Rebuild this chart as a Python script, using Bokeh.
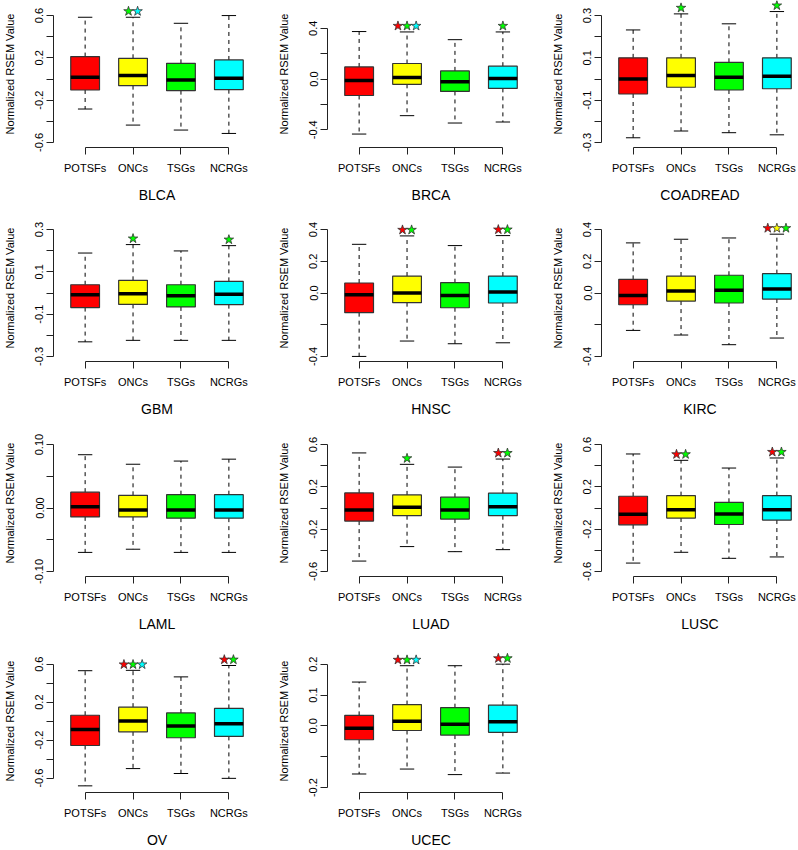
import numpy as np
from bokeh.plotting import figure
from bokeh.layouts import gridplot
from bokeh.models import Range1d, FixedTicker
from bokeh.embed import file_html
from bokeh.resources import INLINE

categories = ["POTSFs", "ONCs", "TSGs", "NCRGs"]
box_colors = ["#FF0000", "#FFFF00", "#00FF00", "#00FFFF"]
star_palette = {"r": "#FF0000", "y": "#FFFF00", "g": "#00FF00", "c": "#00FFFF"}
cancers = ["BLCA", "BRCA", "COADREAD", "GBM", "HNSC", "KIRC",
           "LAML", "LUAD", "LUSC", "OV", "UCEC"]

# per category: (lower whisker, Q1, median, Q3, upper whisker)
BLCA = [(-0.284, -0.104, 0.016, 0.212, 0.584), (-0.436, -0.063, 0.032, 0.196, 0.584),
        (-0.483, -0.110, -0.009, 0.148, 0.527), (-0.515, -0.101, 0.006, 0.180, 0.600)]
BRCA = [(-0.434, -0.130, -0.011, 0.095, 0.374), (-0.289, -0.042, 0.011, 0.122, 0.371),
        (-0.347, -0.098, -0.021, 0.064, 0.310), (-0.339, -0.074, 0.003, 0.101, 0.371)]
COADREAD = [(-0.278, -0.071, 0.000, 0.100, 0.232), (-0.246, -0.039, 0.016, 0.100, 0.308),
            (-0.254, -0.052, 0.008, 0.079, 0.261), (-0.264, -0.046, 0.013, 0.100, 0.319)]
GBM = [(-0.231, -0.069, -0.008, 0.039, 0.189), (-0.224, -0.054, -0.003, 0.060, 0.229),
       (-0.224, -0.066, -0.013, 0.039, 0.199), (-0.224, -0.055, -0.006, 0.055, 0.224)]
HNSC = [(-0.400, -0.124, -0.011, 0.063, 0.307), (-0.303, -0.061, 0.000, 0.107, 0.360),
        (-0.320, -0.093, -0.015, 0.065, 0.299), (-0.314, -0.063, 0.006, 0.107, 0.362)]
KIRC = [(-0.236, -0.074, -0.015, 0.086, 0.316), (-0.265, -0.051, 0.013, 0.107, 0.339),
        (-0.326, -0.063, 0.017, 0.112, 0.347), (-0.284, -0.038, 0.025, 0.122, 0.371)]
LAML = [(-0.070, -0.014, 0.002, 0.025, 0.084), (-0.065, -0.014, -0.003, 0.020, 0.069),
        (-0.070, -0.016, -0.003, 0.021, 0.074), (-0.070, -0.016, -0.003, 0.021, 0.077)]
LUAD = [(-0.502, -0.124, -0.019, 0.143, 0.521), (-0.365, -0.073, 0.006, 0.124, 0.413),
        (-0.413, -0.105, -0.019, 0.102, 0.387), (-0.394, -0.073, 0.013, 0.140, 0.463)]
LUSC = [(-0.521, -0.159, -0.060, 0.111, 0.511), (-0.419, -0.095, -0.016, 0.117, 0.451),
        (-0.476, -0.156, -0.057, 0.054, 0.378), (-0.463, -0.114, -0.016, 0.117, 0.473)]
OV = [(-0.682, -0.257, -0.089, 0.062, 0.531), (-0.500, -0.113, 0.000, 0.147, 0.535),
      (-0.552, -0.175, -0.051, 0.086, 0.466), (-0.603, -0.161, -0.027, 0.134, 0.586)]
UCEC = [(-0.156, -0.045, -0.008, 0.034, 0.142), (-0.140, -0.015, 0.015, 0.069, 0.195),
        (-0.158, -0.030, 0.005, 0.059, 0.195), (-0.153, -0.021, 0.013, 0.067, 0.200)]

# significance stars above each category (r=red, y=yellow, g=green, c=cyan)
BLCA_sig = ["", "gc", "", ""]
BRCA_sig = ["", "rgc", "", "g"]
COADREAD_sig = ["", "g", "", "g"]
GBM_sig = ["", "g", "", "g"]
HNSC_sig = ["", "rg", "", "rg"]
KIRC_sig = ["", "", "", "ryg"]
LAML_sig = ["", "", "", ""]
LUAD_sig = ["", "g", "", "rg"]
LUSC_sig = ["", "rg", "", "rg"]
OV_sig = ["", "rgc", "", "rg"]
UCEC_sig = ["", "rgc", "", "rg"]

# y-axis limits, labelled ticks and unlabelled ticks
ylims = {"BLCA": (-0.6, 0.6), "BRCA": (-0.5, 0.5), "COADREAD": (-0.3, 0.3), "GBM": (-0.3, 0.3),
         "HNSC": (-0.4, 0.4), "KIRC": (-0.4, 0.4), "LAML": (-0.1, 0.1), "LUAD": (-0.6, 0.6),
         "LUSC": (-0.6, 0.6), "OV": (-0.7, 0.6), "UCEC": (-0.2, 0.2)}
tick_labels = {
    "BLCA": {-0.6: "-0.6", -0.2: "-0.2", 0.2: "0.2", 0.6: "0.6"},
    "BRCA": {-0.4: "-0.4", 0.0: "0.0", 0.4: "0.4"},
    "COADREAD": {-0.3: "-0.3", -0.1: "-0.1", 0.1: "0.1", 0.3: "0.3"},
    "GBM": {-0.3: "-0.3", -0.1: "-0.1", 0.1: "0.1", 0.3: "0.3"},
    "HNSC": {-0.4: "-0.4", 0.0: "0.0", 0.2: "0.2", 0.4: "0.4"},
    "KIRC": {-0.4: "-0.4", 0.0: "0.0", 0.2: "0.2", 0.4: "0.4"},
    "LAML": {-0.1: "-0.10", 0.0: "0.00", 0.1: "0.10"},
    "LUAD": {-0.6: "-0.6", -0.2: "-0.2", 0.2: "0.2", 0.6: "0.6"},
    "LUSC": {-0.6: "-0.6", -0.2: "-0.2", 0.2: "0.2", 0.6: "0.6"},
    "OV": {-0.6: "-0.6", -0.2: "-0.2", 0.2: "0.2", 0.6: "0.6"},
    "UCEC": {-0.2: "-0.2", 0.0: "0.0", 0.1: "0.1", 0.2: "0.2"},
}
unlabeled_ticks = {
    "BLCA": [-0.4, 0.0, 0.4], "BRCA": [-0.2, 0.2], "COADREAD": [-0.2, 0.0, 0.2],
    "GBM": [-0.2, 0.0, 0.2], "HNSC": [-0.2], "KIRC": [-0.2], "LAML": [-0.05, 0.05],
    "LUAD": [-0.4, 0.0, 0.4], "LUSC": [-0.4, 0.0, 0.4], "OV": [-0.4, 0.0, 0.4], "UCEC": [-0.1],
}

stats_by = {"BLCA": BLCA, "BRCA": BRCA, "COADREAD": COADREAD, "GBM": GBM, "HNSC": HNSC,
            "KIRC": KIRC, "LAML": LAML, "LUAD": LUAD, "LUSC": LUSC, "OV": OV, "UCEC": UCEC}
sig_by = {"BLCA": BLCA_sig, "BRCA": BRCA_sig, "COADREAD": COADREAD_sig, "GBM": GBM_sig,
          "HNSC": HNSC_sig, "KIRC": KIRC_sig, "LAML": LAML_sig, "LUAD": LUAD_sig,
          "LUSC": LUSC_sig, "OV": OV_sig, "UCEC": UCEC_sig}

FONT = "Liberation Sans"
AX = "#222222"
USR_H = 137          # pixel height of the R plot region
EXTRA = 10           # extra frame space above it for the stars
FRAME_H = USR_H + EXTRA
LEFT = 53
USR_W = 207          # pixel width of the R plot region
col_widths = [274, 274, 250]
row_heights = [214, 215, 216, 205]
row_tops = [0, 0, 0, 4]


def make_panel(name, col, row):
    stats = stats_by[name]
    lo, hi = ylims[name]
    span = hi - lo
    u_lo, u_hi = lo - 0.04 * span, hi + 0.04 * span
    u_span = u_hi - u_lo
    extra = u_span * EXTRA / USR_H
    frame_w = min(USR_W, col_widths[col] - LEFT)
    x0, x1 = 0.5 - 0.04 * 4, 4.5 + 0.04 * 4
    x_end = x0 + (x1 - x0) * frame_w / USR_W
    right = col_widths[col] - LEFT - frame_w
    bottom = row_heights[row] - row_tops[row] - FRAME_H
    p = figure(width=col_widths[col], height=row_heights[row],
               x_range=Range1d(x0, x_end), y_range=Range1d(u_lo, u_hi + extra),
               output_backend="svg", toolbar_location=None,
               min_border_left=LEFT, min_border_right=right,
               min_border_top=row_tops[row], min_border_bottom=bottom)
    p.outline_line_color = None
    p.xgrid.visible = False
    p.ygrid.visible = False
    p.background_fill_color = "white"
    p.border_fill_color = "white"

    xs = np.arange(1, len(categories) + 1, dtype=float)
    low = [s[0] for s in stats]
    q1 = [s[1] for s in stats]
    med = [s[2] for s in stats]
    q3 = [s[3] for s in stats]
    up = [s[4] for s in stats]
    bw = 0.3
    sw = 0.15
    # whiskers
    p.segment(x0=xs, y0=q3, x1=xs, y1=up, line_color="black", line_width=1, line_dash="4 4")
    p.segment(x0=xs, y0=q1, x1=xs, y1=low, line_color="black", line_width=1, line_dash="4 4")
    p.segment(x0=xs - sw, y0=up, x1=xs + sw, y1=up, line_color="black", line_width=1)
    p.segment(x0=xs - sw, y0=low, x1=xs + sw, y1=low, line_color="black", line_width=1)
    # boxes
    p.quad(left=xs - bw, right=xs + bw, bottom=q1, top=q3, fill_color=box_colors,
           line_color="#333333", line_width=1.2)
    p.segment(x0=xs - bw, y0=med, x1=xs + bw, y1=med, line_color="black", line_width=3.5)

    # stars
    sx, sy, sc = [], [], []
    for i, codes in enumerate(sig_by[name]):
        n = len(codes)
        for k, ch in enumerate(codes):
            sx.append(xs[i] + (k - (n - 1) / 2) * 0.19)
            sy.append(up[i] + u_span * 6.0 / USR_H)
            sc.append(star_palette[ch])
    if sx:
        p.scatter(x=sx, y=sy, marker="star", size=10, fill_color=sc,
                  line_color="#333333", line_width=0.8)

    # x axis
    xa = p.xaxis[0]
    xa.ticker = FixedTicker(ticks=list(xs))
    xa.major_label_overrides = {float(x): c for x, c in zip(xs, categories)}
    xa.bounds = (1, len(categories))
    xa.minor_tick_line_color = None
    xa.major_tick_out = 7
    xa.major_tick_in = 0
    xa.axis_line_color = AX
    xa.major_tick_line_color = AX
    xa.major_label_standoff = 7
    xa.major_label_text_font = FONT
    xa.major_label_text_font_size = "11px"
    xa.major_label_text_color = "black"
    xa.axis_label = name
    xa.axis_label_text_font = FONT
    xa.axis_label_text_font_size = "14px"
    xa.axis_label_text_font_style = "normal"
    xa.axis_label_text_color = "black"
    xa.axis_label_standoff = 10

    # y axis
    ya = p.yaxis[0]
    labs = tick_labels[name]
    major = sorted(labs.keys())
    minor = unlabeled_ticks[name]
    ya.ticker = FixedTicker(ticks=major, minor_ticks=minor)
    ya.major_label_overrides = dict(labs)
    allt = sorted(major + minor)
    ya.bounds = (allt[0], allt[-1])
    ya.major_tick_out = 7
    ya.major_tick_in = 0
    ya.minor_tick_out = 7
    ya.minor_tick_in = 0
    ya.axis_line_color = AX
    ya.major_tick_line_color = AX
    ya.minor_tick_line_color = AX
    ya.major_label_orientation = "vertical"
    ya.major_label_standoff = 3
    ya.major_label_text_font = FONT
    ya.major_label_text_font_size = "11px"
    ya.major_label_text_color = "black"
    ya.axis_label = "Normalized RSEM Value"
    ya.axis_label_text_font = FONT
    ya.axis_label_text_font_size = "11px"
    ya.axis_label_text_font_style = "normal"
    ya.axis_label_text_color = "black"
    ya.axis_label_standoff = 17
    return p


panels = [make_panel(name, i % 3, i // 3) for i, name in enumerate(cancers)]
grid = [panels[0:3], panels[3:6], panels[6:9], [panels[9], panels[10], None]]
layout = gridplot(grid, toolbar_location=None)

with open("out.html", "w") as f:
    f.write(file_html(layout, INLINE))
